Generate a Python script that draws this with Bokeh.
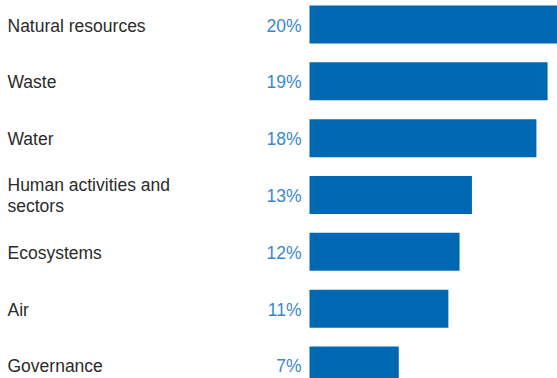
from bokeh.plotting import figure
from bokeh.models import Range1d, ColumnDataSource
from bokeh.core.properties import value
from bokeh.embed import file_html
from bokeh.resources import INLINE

categories = ["Natural resources", "Waste", "Water", "Human activities and\nsectors",
              "Ecosystems", "Air", "Governance"]
shares = [20.0, 19.2, 18.3, 13.1, 12.1, 11.2, 7.2]
share_labels = ["20%", "19%", "18%", "13%", "12%", "11%", "7%"]

W, H = 557, 378
px_per_unit = 12.4
bar_left_px = 309
pitch = 56.83
first_center = 24.0

idx = list(range(len(categories)))
src = ColumnDataSource(dict(y=idx, v=shares, cat=categories, lab=share_labels,
                            zero=[0] * len(idx)))

x_start = -bar_left_px / px_per_unit
x_end = (W - bar_left_px) / px_per_unit
y_top = -first_center / pitch
y_bot = (H - first_center) / pitch

p = figure(width=W, height=H, output_backend="svg", toolbar_location=None,
           x_range=Range1d(x_start, x_end), y_range=Range1d(y_bot, y_top),
           min_border=0, outline_line_color=None)
p.axis.visible = False
p.grid.visible = False
p.background_fill_color = "white"
p.border_fill_color = "white"

p.hbar(y="y", left="zero", right="v", height=38 / pitch, source=src,
       fill_color="#0068b3", line_color=None)

p.text(x=x_start, y="y", text="cat", source=src, x_offset=7, y_offset=1,
       text_font=value("Liberation Sans"), text_font_size="17.5px",
       text_color="#2b2b2b", text_align="left", text_baseline="middle",
       text_line_height=1.05)

p.text(x="zero", y="y", text="lab", source=src, x_offset=-8, y_offset=1,
       text_font=value("Liberation Sans"), text_font_size="17.5px",
       text_color="#3a88cc", text_align="right", text_baseline="middle")

open("out.html", "w").write(file_html(p, INLINE))
